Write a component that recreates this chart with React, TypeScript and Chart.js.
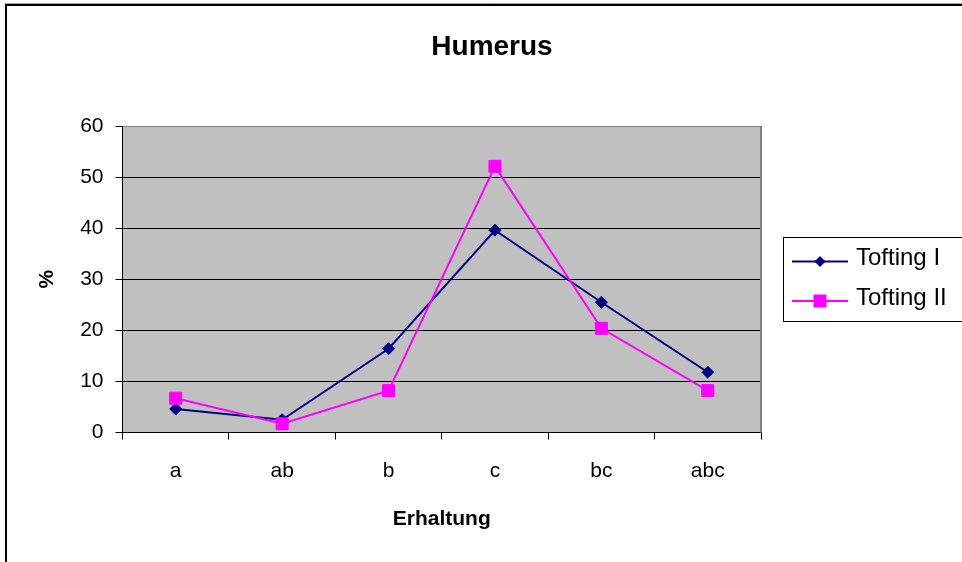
import React, { useEffect, useRef } from "react";
import { Chart, registerables } from "chart.js";

Chart.register(...registerables);

const categories = ["a", "ab", "b", "c", "bc", "abc"];
const toftingI = [4.6, 2.5, 16.4, 39.6, 25.5, 11.8];
const toftingII = [6.7, 1.7, 8.2, 52.1, 20.4, 8.2];
const seriesNames = ["Tofting I", "Tofting II"];
const chartTitle = "Humerus";
const xTitle = "Erhaltung";
const yTitle = "%";
const yMin = 0;
const yMax = 60;
const yStep = 10;

const FONT = "'Liberation Sans', Arial, sans-serif";
const W = 984;
const H = 580;

const framePlugin = {
  id: "excelFrame",
  beforeDraw(chart: any) {
    const { ctx, chartArea } = chart;
    ctx.save();
    ctx.fillStyle = "#ffffff";
    ctx.fillRect(0, 0, chart.width, chart.height);
    ctx.fillStyle = "#C0C0C0";
    ctx.fillRect(chartArea.left, chartArea.top, chartArea.right - chartArea.left, chartArea.bottom - chartArea.top);
    ctx.restore();
  },
  afterDraw(chart: any) {
    const { ctx, chartArea } = chart;
    ctx.save();
    ctx.strokeStyle = "#808080";
    ctx.lineWidth = 2;
    ctx.beginPath();
    ctx.moveTo(chartArea.right, chartArea.top);
    ctx.lineTo(chartArea.right, chartArea.bottom);
    ctx.stroke();
    ctx.strokeStyle = "#a0a0a0";
    ctx.lineWidth = 1;
    ctx.beginPath();
    ctx.moveTo(5, 3.5);
    ctx.lineTo(W, 3.5);
    ctx.stroke();
    ctx.strokeStyle = "#000000";
    ctx.lineWidth = 2;
    ctx.strokeRect(6, 5, 972, 570);

    const lx = 783.5;
    const ly = 237.5;
    ctx.lineWidth = 1;
    ctx.strokeStyle = "#000000";
    ctx.strokeRect(lx, ly, 250, 84);
    const rows = [261.5, 301];
    chart.data.datasets.forEach((ds: any, i: number) => {
      const y = rows[i];
      ctx.strokeStyle = ds.borderColor;
      ctx.lineWidth = 2;
      ctx.beginPath();
      ctx.moveTo(792, y);
      ctx.lineTo(848, y);
      ctx.stroke();
      ctx.fillStyle = ds.pointBackgroundColor;
      const cx = 820;
      if (ds.pointStyle === "rectRot") {
        const r = 5.5;
        ctx.beginPath();
        ctx.moveTo(cx, y - r);
        ctx.lineTo(cx + r, y);
        ctx.lineTo(cx, y + r);
        ctx.lineTo(cx - r, y);
        ctx.closePath();
        ctx.fill();
      } else {
        const s = 6.5;
        ctx.fillRect(cx - s, y - s, 2 * s, 2 * s);
      }
      ctx.fillStyle = "#000000";
      ctx.font = `24px ${FONT}`;
      ctx.textAlign = "left";
      ctx.textBaseline = "middle";
      ctx.fillText(ds.label, 856, y - 3);
    });
    ctx.restore();
  },
};

export default function App() {
  const ref = useRef<HTMLCanvasElement | null>(null);

  useEffect(() => {
    if (!ref.current) return;
    const chart = new Chart(ref.current, {
      type: "line",
      data: {
        labels: categories,
        datasets: [
          {
            label: seriesNames[0],
            data: toftingI,
            borderColor: "#000080",
            backgroundColor: "#000080",
            pointBackgroundColor: "#000080",
            pointBorderColor: "#000080",
            pointStyle: "rectRot",
            pointRadius: 6,
            pointBorderWidth: 1,
            borderWidth: 2,
            tension: 0,
            order: 1,
          },
          {
            label: seriesNames[1],
            data: toftingII,
            borderColor: "#FF00FF",
            backgroundColor: "#FF00FF",
            pointBackgroundColor: "#FF00FF",
            pointBorderColor: "#FF00FF",
            pointStyle: "rect",
            pointRadius: 8.5,
            pointBorderWidth: 1,
            borderWidth: 2,
            tension: 0,
            order: 0,
          },
        ],
      },
      options: {
        responsive: false,
        animation: false,
        devicePixelRatio: 1,
        layout: { padding: 0 },
        plugins: {
          legend: { display: false },
          tooltip: { enabled: false },
          title: {
            display: true,
            text: chartTitle,
            color: "#000000",
            font: { family: FONT, size: 28, weight: "bold", lineHeight: 1.2 },
            padding: { top: 30, bottom: 62.4 },
          },
        },
        scales: {
          x: {
            type: "category",
            offset: true,
            grid: {
              offset: true,
              drawOnChartArea: false,
              color: "#000000",
              tickLength: 7,
            },
            border: { color: "#000000", width: 1 },
            ticks: {
              color: "#000000",
              font: { family: FONT, size: 21 },
              padding: 19,
              maxRotation: 0,
            },
            title: {
              display: true,
              text: xTitle,
              color: "#000000",
              font: { family: FONT, size: 21, weight: "bold", lineHeight: 1.2 },
              padding: { top: 0, bottom: 48 },
            },
            afterFit: (scale: any) => {
              scale.height = H - 432.5;
            },
          },
          y: {
            type: "linear",
            min: yMin,
            max: yMax,
            grid: {
              color: (c: any) => (c.tick && c.tick.value === yMax ? "#808080" : "#000000"),
              tickColor: "#000000",
              tickLength: 7,
              lineWidth: 1,
            },
            border: { color: "#000000", width: 1 },
            ticks: {
              stepSize: yStep,
              color: "#000000",
              font: { family: FONT, size: 21 },
              padding: 12,
            },
            title: {
              display: true,
              text: yTitle,
              color: "#000000",
              font: { family: FONT, size: 21, weight: "bold", lineHeight: 1.2 },
              padding: { top: 35, bottom: 0 },
            },
            afterFit: (scale: any) => {
              scale.width = 122.5;
            },
          },
          legendSpace: {
            type: "linear",
            position: "right",
            display: true,
            grid: { display: false },
            border: { display: false },
            ticks: { display: false },
            afterFit: (scale: any) => {
              scale.width = W - 761;
            },
          },
        },
      },
      plugins: [framePlugin],
    } as any);
    return () => chart.destroy();
  }, []);

  return (
    <div
      style={{
        position: "fixed",
        left: 0,
        top: 0,
        width: 962,
        height: 562,
        overflow: "hidden",
        background: "#ffffff",
      }}
    >
      <canvas ref={ref} width={W} height={H} style={{ display: "block", width: W, height: H }} />
    </div>
  );
}
